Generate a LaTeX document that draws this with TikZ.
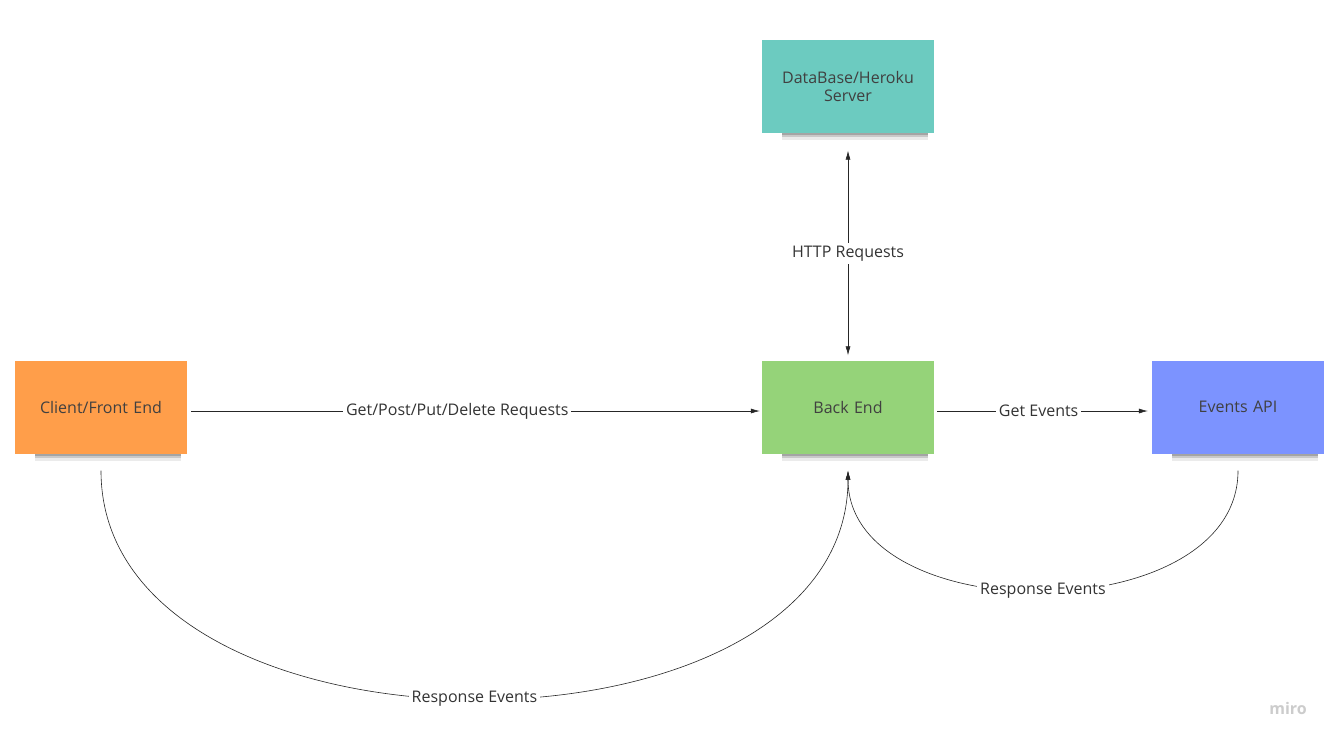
\documentclass[tikz,border=0pt]{standalone}
\usepackage{fontspec}
\setmainfont{Open Sans}
\usetikzlibrary{calc,arrows.meta,shadows}
\definecolor{noteteal}{RGB}{108,203,192}
\definecolor{noteorange}{RGB}{255,158,74}
\definecolor{notegreen}{RGB}{149,211,121}
\definecolor{noteblue}{RGB}{124,147,255}

\begin{document}
\begin{tikzpicture} [x=1pt,y=-1pt,
  note/.style=
  {rectangle, minimum width=172pt, minimum height=93pt, inner sep=0pt,
    text width=160pt, align=center, text=black!75,
    font=\fontsize{16}{18}\selectfont,
    drop shadow={shadow xshift=8pt, shadow yshift=-17pt, shadow scale=0.85,
      opacity=0.08, fill=black},
    drop shadow={shadow xshift=8pt, shadow yshift=-14pt, shadow scale=0.85,
      opacity=0.14, fill=black},
    drop shadow={shadow xshift=8pt, shadow yshift=-11pt, shadow scale=0.85,
      opacity=0.18, fill=black}},
  lbl/.style={fill=white, text=black!80, inner sep=3pt,
    font=\fontsize{16}{18}\selectfont},
  link/.style={-{Latex[length=9pt,width=5pt]}, line width=0.6pt, black!85}]
\fill [white] (0,0) rectangle (1340,745);
\useasboundingbox (0,0) rectangle (1340,745);
\node [note, fill=noteorange] (client) at (101,407) {Client/Front End};
\node [note, fill=notegreen] (backend) at (848,407) {Back End};
\node [note, fill=noteblue] (events) at ($(backend)+(390,0)$) {Events API};
\node [note, fill=noteteal] (database) at ($(backend)+(0,-321)$) {DataBase/Heroku\\Server};
\node [text=gray!40, font=\fontsize{16}{16}\selectfont\bfseries] (miro) at (1288,708) {miro};
\draw [link, shorten <=4pt, shorten >=2pt] ($(client.east)+(0,4)$) -- node[lbl, pos=0.47]{Get/Post/Put/Delete Requests} ($(backend.west)+(0,4)$);
\draw [link, shorten <=3pt, shorten >=4pt] ($(backend.east)+(0,4)$) -- node[lbl, pos=0.48]{Get Events} ($(events.west)+(0,4)$);
\draw [link, {Latex[length=9pt,width=5pt]}-{Latex[length=9pt,width=5pt]}, shorten <=18pt, shorten >=5pt] (database.south) -- node[lbl, pos=0.53]{HTTP Requests} (backend.north);
\draw [link] ($(client.south)+(0,17)$) .. controls +(0,304) and +(0,304) .. node[lbl, pos=0.5]{Response Events} ($(backend.south)+(0,17)$);
\draw [link] ($(events.south)+(0,17)$) .. controls +(0,160) and +(0,160) .. node[lbl, pos=0.5]{Response Events} ($(backend.south)+(0,17)$);

\end{tikzpicture}
\end{document}
